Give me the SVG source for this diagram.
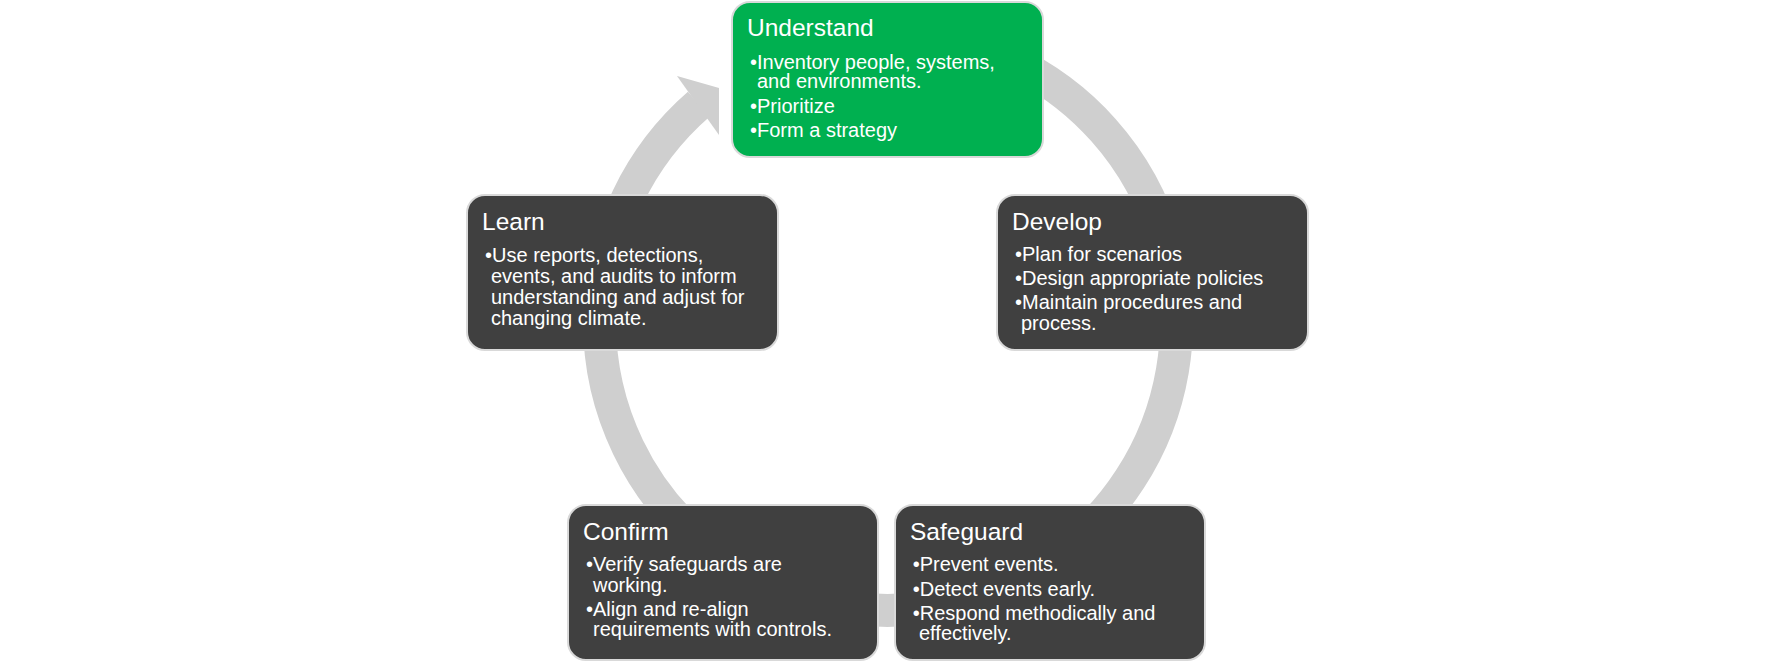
<svg xmlns="http://www.w3.org/2000/svg" width="1774" height="662" viewBox="0 0 1774 662">
  <style>
    .box { fill: #404040; stroke: #D9D9D9; stroke-width: 2; }
    .green { fill: #00B050; }
    .title { font-family: "Liberation Sans", Arial, sans-serif; font-size: 24.5px; fill: #FFFFFF; }
    .body { font-family: "Liberation Sans", Arial, sans-serif; font-size: 20px; fill: #FFFFFF; }
    .ring { fill: none; stroke: #CFCFCF; stroke-width: 33; }
  </style>
  <rect width="1774" height="662" fill="#FFFFFF"/>
  <g id="connectors">
    <path class="ring" d="M 1009.9 60.5 A 288.5 288.5 0 1 1 698.7 104.3"/>
    <polygon points="677,76 719,88 719,135" fill="#CFCFCF"/>
  </g>
  <g id="node-understand">
    <rect class="box green" x="732" y="2" width="311" height="155" rx="18"/>
    <text class="title" x="747" y="36">Understand</text>
    <text class="body" x="750" y="69">•Inventory people, systems,</text>
    <text class="body" x="757" y="87.5">and environments.</text>
    <text class="body" x="750" y="112.7">•Prioritize</text>
    <text class="body" x="750" y="137.3">•Form a strategy</text>
  </g>
  <g id="node-develop">
    <rect class="box" x="997" y="195" width="311" height="155" rx="18"/>
    <text class="title" x="1012" y="229.5">Develop</text>
    <text class="body" x="1015" y="261">•Plan for scenarios</text>
    <text class="body" x="1015" y="285">•Design appropriate policies</text>
    <text class="body" x="1015" y="309">•Maintain procedures and</text>
    <text class="body" x="1021" y="329.5">process.</text>
  </g>
  <g id="node-safeguard">
    <rect class="box" x="895" y="505" width="310" height="155" rx="18"/>
    <text class="title" x="910" y="540">Safeguard</text>
    <text class="body" x="912.7" y="571">•Prevent events.</text>
    <text class="body" x="912.7" y="595.5">•Detect events early.</text>
    <text class="body" x="912.7" y="620">•Respond methodically and</text>
    <text class="body" x="919" y="640">effectively.</text>
  </g>
  <g id="node-confirm">
    <rect class="box" x="568" y="505" width="310" height="155" rx="18"/>
    <text class="title" x="583" y="540">Confirm</text>
    <text class="body" x="586" y="571">•Verify safeguards are</text>
    <text class="body" x="593" y="591.5">working.</text>
    <text class="body" x="586" y="616">•Align and re-align</text>
    <text class="body" x="593" y="636">requirements with controls.</text>
  </g>
  <g id="node-learn">
    <rect class="box" x="467" y="195" width="311" height="155" rx="18"/>
    <text class="title" x="482" y="229.5">Learn</text>
    <text class="body" x="485" y="261.5">•Use reports, detections,</text>
    <text class="body" x="491" y="282.5">events, and audits to inform</text>
    <text class="body" x="491" y="303.5">understanding and adjust for</text>
    <text class="body" x="491" y="324.5">changing climate.</text>
  </g>
</svg>
